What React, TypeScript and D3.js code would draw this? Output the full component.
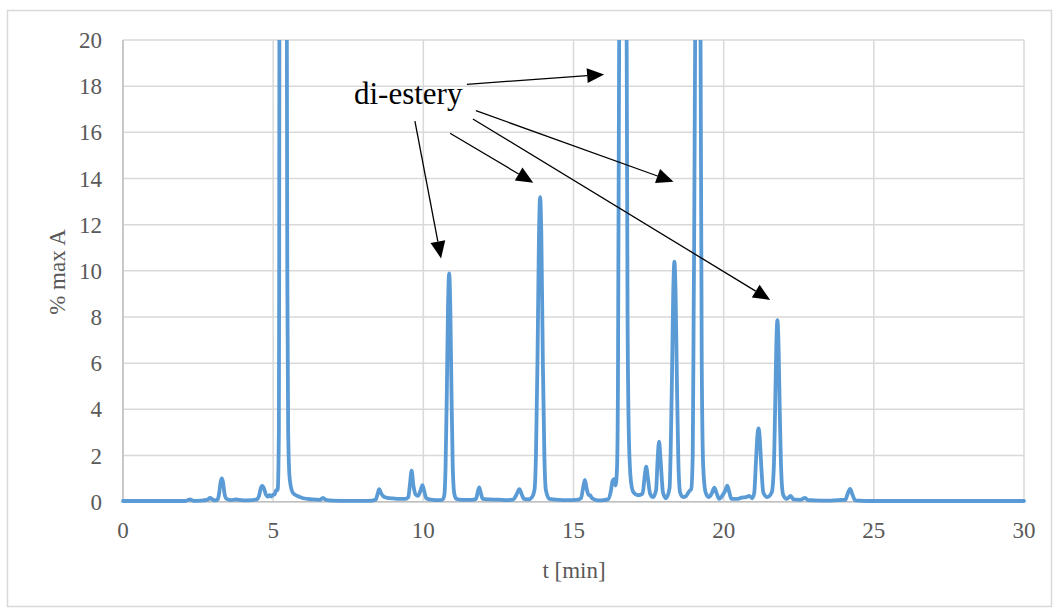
import React from "react";
import * as d3 from "d3";

// Chromatogram trace: [t (min), % max A]
const tValues: number[] = [
  0, 1, 2, 2.1, 2.23, 2.35, 2.6, 2.8, 2.9, 3.0, 3.1,
  3.15, 3.2, 3.25, 3.29, 3.33, 3.38, 3.45, 3.6, 3.75, 3.85, 4.0, 4.3, 4.45,
  4.53, 4.58, 4.64, 4.7, 4.76, 4.82, 4.88, 4.93, 5.0, 5.05, 5.1,
  5.15, 5.19, 5.2, 5.21, 5.25, 5.33, 5.41, 5.45, 5.47, 5.5, 5.55, 5.65, 5.8, 6.0, 6.3, 6.55,
  6.66, 6.75, 7.0, 7.5, 8.0, 8.3, 8.42,
  8.48, 8.53, 8.6, 8.68, 8.8, 9.0, 9.2, 9.4, 9.5,
  9.55, 9.61, 9.67, 9.75, 9.82,
  9.91, 9.97, 10.03, 10.1, 10.3, 10.55, 10.65,
  10.7, 10.74, 10.78, 10.82, 10.86, 10.9, 10.94, 10.98, 11.03, 11.1, 11.3, 11.6, 11.75,
  11.81, 11.86, 11.91, 11.98, 12.2, 12.5, 12.8, 13.0, 13.1,
  13.2, 13.28, 13.35, 13.5, 13.62,
  13.7, 13.75, 13.8, 13.85, 13.89, 13.93, 13.98, 14.03, 14.08, 14.2, 14.5, 14.8, 15.1, 15.25,
  15.32, 15.38, 15.44, 15.5, 15.55, 15.62, 15.8, 16.0, 16.15, 16.25,
  16.3, 16.35, 16.4, 16.45,
  16.48, 16.52, 16.57, 16.65, 16.73, 16.77, 16.8, 16.85, 16.92, 17.0, 17.15, 17.3,
  17.37, 17.42, 17.47, 17.55, 17.65, 17.75,
  17.8, 17.85, 17.9, 17.98, 18.08, 18.2,
  18.24, 18.28, 18.32, 18.36, 18.4, 18.44, 18.49, 18.55, 18.65, 18.75, 18.85, 18.92, 18.97,
  19.0, 19.05, 19.09, 19.14, 19.19, 19.23, 19.27, 19.32, 19.4, 19.5,
  19.6, 19.69, 19.77, 19.85, 19.95,
  20.06, 20.12, 20.18, 20.26, 20.45, 20.6, 20.75, 20.85, 20.95, 21.02,
  21.07, 21.12, 21.16, 21.2, 21.25, 21.32, 21.45, 21.6,
  21.67, 21.71, 21.75, 21.79, 21.83, 21.87, 21.92, 21.98, 22.1, 22.23, 22.33, 22.55, 22.71, 22.8, 23.0, 23.5, 23.8, 24.05,
  24.13, 24.21, 24.29, 24.38, 24.6, 25, 26, 27, 28, 29, 30,
];

const signal: number[] = [
  0.03, 0.03, 0.03, 0.04, 0.1, 0.04, 0.05, 0.08, 0.16, 0.08, 0.06,
  0.1, 0.35, 0.85, 1.01, 0.85, 0.35, 0.12, 0.07, 0.1, 0.08, 0.06, 0.07, 0.1,
  0.25, 0.55, 0.68, 0.55, 0.3, 0.22, 0.28, 0.22, 0.3, 0.32, 0.5,
  0.5, 3, 10, 25, 60, 100, 60, 25, 10, 3, 1, 0.4, 0.25, 0.15, 0.1, 0.08,
  0.17, 0.08, 0.05, 0.04, 0.04, 0.05, 0.1,
  0.35, 0.54, 0.35, 0.22, 0.17, 0.14, 0.12, 0.12, 0.2,
  0.7, 1.34, 0.7, 0.3, 0.25,
  0.5, 0.72, 0.45, 0.15, 0.08, 0.07, 0.1,
  0.3, 1.5, 4.5, 8.3, 9.89, 8.3, 4.5, 1.5, 0.35, 0.12, 0.08, 0.08, 0.12,
  0.4, 0.62, 0.4, 0.12, 0.1, 0.09, 0.07, 0.1, 0.3,
  0.54, 0.3, 0.12, 0.1, 0.2,
  0.5, 2, 6, 11.5, 13.19, 11.5, 6, 2, 0.5, 0.12, 0.08, 0.07, 0.08, 0.15,
  0.6, 0.94, 0.55, 0.3, 0.28, 0.15, 0.06, 0.07, 0.1, 0.5,
  0.9, 0.98, 0.7, 1.5,
  5, 20, 50, 80, 50, 20, 8, 2.5, 0.8, 0.4, 0.28, 0.35,
  1.1, 1.52, 1.1, 0.35, 0.2, 0.5,
  1.8, 2.6, 1.8, 0.4, 0.15, 0.6,
  2.5, 5.5, 9.0, 10.4, 9.0, 5.5, 1.8, 0.4, 0.2, 0.25, 0.45, 0.55, 2,
  8, 20, 50, 80, 50, 20, 6, 1.5, 0.4, 0.2,
  0.35, 0.61, 0.35, 0.12, 0.25,
  0.5, 0.69, 0.45, 0.12, 0.12, 0.18, 0.2, 0.25, 0.15, 0.4,
  1.6, 2.8, 3.18, 2.8, 1.6, 0.4, 0.2, 0.4,
  1.5, 3.8, 6.6, 7.86, 6.6, 3.8, 1.2, 0.3, 0.12, 0.25, 0.1, 0.08, 0.17, 0.07, 0.06, 0.05, 0.07, 0.08,
  0.35, 0.55, 0.3, 0.06, 0.04, 0.03, 0.03, 0.03, 0.03, 0.03, 0.03,
];

const xTicks: number[] = [0, 5, 10, 15, 20, 25, 30];
const yTicks: number[] = [0, 2, 4, 6, 8, 10, 12, 14, 16, 18, 20];

const xTitle = "t [min]";
const yTitle = "% max A";
const annotationText = "di-estery";
// label anchor in data coords [t, value]
const annotationAnchor: [number, number] = [7.69, 17.22];
// arrows in data coords: [tStart, vStart, tEnd, vEnd]
const arrowStartsT: number[] = [11.45, 9.72, 10.89, 11.75, 11.65];
const arrowStartsV: number[] = [18.08, 16.49, 15.96, 16.94, 16.58];
const arrowEndsT: number[] = [16.02, 10.59, 13.66, 18.33, 21.55];
const arrowEndsV: number[] = [18.51, 10.54, 13.82, 13.86, 8.74];

const W = 1054;
const H = 610;
const M = { left: 123, right: 1024, top: 40, bottom: 501.7 };
const FONT = "Liberation Serif, Tinos, Times New Roman, DejaVu Serif, Noto Serif, serif";

export default function App() {
  const x = d3.scaleLinear().domain([0, 30]).range([M.left, M.right]);
  const y = d3.scaleLinear().domain([0, 20]).range([M.bottom, M.top]);

  const pts: [number, number][] = tValues.map((t, i) => [t, signal[i]]);
  const line = d3
    .line<[number, number]>()
    .x((d) => x(d[0]))
    .y((d) => y(d[1]))
    .curve(d3.curveMonotoneX);

  const arrows = arrowStartsT.map((_, i) => {
    const x1 = x(arrowStartsT[i]);
    const y1 = y(arrowStartsV[i]);
    const x2 = x(arrowEndsT[i]);
    const y2 = y(arrowEndsV[i]);
    const ang = Math.atan2(y2 - y1, x2 - x1);
    const len = 17;
    const hw = 7.5;
    const bx = x2 - len * Math.cos(ang);
    const by = y2 - len * Math.sin(ang);
    const px = -Math.sin(ang) * hw;
    const py = Math.cos(ang) * hw;
    return { x1, y1, bx, by, x2, y2, head: `M${x2},${y2}L${bx + px},${by + py}L${bx - px},${by - py}Z` };
  });

  return (
    <svg
      width={W}
      height={H}
      style={{ position: "absolute", left: 0, top: 0, background: "#fff" }}
    >
      <rect x={7.5} y={10.5} width={1044} height={596} fill="#fff" stroke="#D9D9D9" strokeWidth={1.5} />
      <defs>
        <clipPath id="plotclip">
          <rect x={M.left - 5} y={M.top} width={M.right - M.left + 10} height={M.bottom - M.top + 10} />
        </clipPath>
      </defs>
      {/* grid */}
      {yTicks.map((v) => (
        <line key={"gy" + v} x1={M.left} x2={M.right} y1={y(v)} y2={y(v)} stroke="#D9D9D9" strokeWidth={1.5} />
      ))}
      {xTicks.map((v) => (
        <line key={"gx" + v} x1={x(v)} x2={x(v)} y1={M.top} y2={M.bottom} stroke="#D9D9D9" strokeWidth={1.5} />
      ))}
      <line x1={M.left} x2={M.left} y1={M.top} y2={M.bottom} stroke="#BFBFBF" strokeWidth={1.5} />
      <line x1={M.left} x2={M.right} y1={M.bottom} y2={M.bottom} stroke="#BFBFBF" strokeWidth={1.5} />
      {/* tick labels */}
      {yTicks.map((v) => (
        <text key={"ty" + v} x={102} y={y(v)} dy="0.35em" textAnchor="end" fontFamily={FONT} fontSize={23} fill="#595959">
          {v}
        </text>
      ))}
      {xTicks.map((v) => (
        <text key={"tx" + v} x={x(v)} y={538} textAnchor="middle" fontFamily={FONT} fontSize={23} fill="#595959">
          {v}
        </text>
      ))}
      <text x={574} y={578} textAnchor="middle" fontFamily={FONT} fontSize={23} fill="#595959">
        {xTitle}
      </text>
      <text
        transform={`translate(65, ${272}) rotate(-90)`}
        textAnchor="middle"
        fontFamily={FONT}
        fontSize={23}
        fill="#595959"
      >
        {yTitle}
      </text>
      {/* trace */}
      <g clipPath="url(#plotclip)">
        <path d={line(pts) || ""} fill="none" stroke="#5B9BD5" strokeWidth={3.8} strokeLinejoin="round" strokeLinecap="round" />
      </g>
      {/* annotation */}
      <text x={x(annotationAnchor[0])} y={y(annotationAnchor[1])} fontFamily={FONT} fontSize={31} fill="#000">
        {annotationText}
      </text>
      {arrows.map((a, i) => (
        <g key={"ar" + i}>
          <line x1={a.x1} y1={a.y1} x2={a.bx} y2={a.by} stroke="#000" strokeWidth={1.3} />
          <path d={a.head} fill="#000" />
        </g>
      ))}
    </svg>
  );
}
